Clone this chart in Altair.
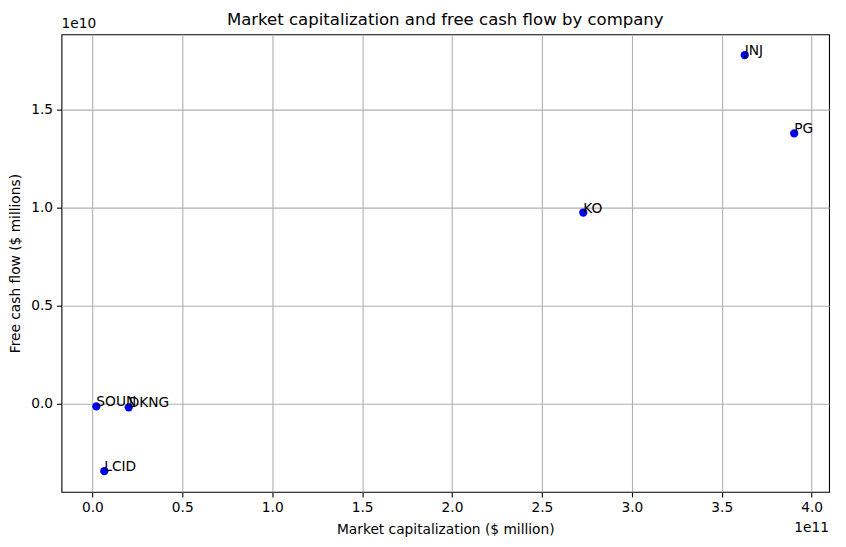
import pandas as pd
import altair as alt

# data
tickers = ['SOUN', 'DKNG', 'LCID', 'KO', 'JNJ', 'PG']
market_cap = [2.2e9, 2.02e10, 6.6e9, 2.73e11, 3.628e11, 3.903e11]
free_cash_flow = [-1.4e8, -1.9e8, -3.45e9, 9.76e9, 1.78e10, 1.38e10]

x_ticks = [0, 0.5e11, 1.0e11, 1.5e11, 2.0e11, 2.5e11, 3.0e11, 3.5e11, 4.0e11]
y_ticks = [0, 0.5e10, 1.0e10, 1.5e10]

df = pd.DataFrame({
    'ticker': tickers,
    'market_cap': market_cap,
    'fcf': free_cash_flow
})

W, H = 775, 462
FONT = 'DejaVu Sans'

x_enc = alt.X(
    'market_cap:Q',
    scale=alt.Scale(domain=[-1.72e10, 4.097e11], nice=False, zero=False),
    axis=alt.Axis(
        title='Market capitalization ($ million)',
        values=x_ticks,
        labelExpr="format(datum.value / 1e11, '.1f')",
        grid=True, gridColor='#b0b0b0', gridWidth=1.1,
        tickColor='black', tickSize=5, tickWidth=1.1,
        domain=False,
        labelPadding=4, titlePadding=8,
        labelFontSize=13.9, titleFontSize=13.9,
        labelFont=FONT, titleFont=FONT,
        titleFontWeight='normal', labelColor='black', titleColor='black'
    )
)
y_enc = alt.Y(
    'fcf:Q',
    scale=alt.Scale(domain=[-4.51e9, 1.886e10], nice=False, zero=False),
    axis=alt.Axis(
        title='Free cash flow ($ millions)',
        values=y_ticks,
        labelExpr="format(datum.value / 1e10, '.1f')",
        grid=True, gridColor='#b0b0b0', gridWidth=1.1,
        tickColor='black', tickSize=5, tickWidth=1.1,
        domain=False,
        labelPadding=4, titlePadding=8,
        labelFontSize=13.9, titleFontSize=13.9,
        labelFont=FONT, titleFont=FONT,
        titleFontWeight='normal', labelColor='black', titleColor='black'
    )
)

points = alt.Chart(df).mark_circle(size=70, color='#0000ff', opacity=1).encode(
    x=x_enc, y=y_enc
)

labels = alt.Chart(df).mark_text(
    align='left', baseline='alphabetic', fontSize=13.9, font=FONT, color='black'
).encode(
    x='market_cap:Q', y='fcf:Q', text='ticker:N'
)

x_offset = alt.Chart(pd.DataFrame({'t': ['1e11']})).mark_text(
    align='right', baseline='middle', fontSize=13.9, font=FONT, color='black'
).encode(text='t:N', x=alt.value(W), y=alt.value(H + 36))

y_offset = alt.Chart(pd.DataFrame({'t': ['1e10']})).mark_text(
    align='left', baseline='bottom', fontSize=13.9, font=FONT, color='black'
).encode(text='t:N', x=alt.value(0), y=alt.value(-3))

# chart title drawn as a text mark so the offset label above the axis doesn't push it away
title = alt.Chart(pd.DataFrame({'t': ['Market capitalization and free cash flow by company']})).mark_text(
    align='center', baseline='alphabetic', fontSize=16.7, font=FONT, color='black'
).encode(text='t:N', x=alt.value(W / 2), y=alt.value(-9))

chart = alt.layer(points, labels, x_offset, y_offset, title).properties(
    width=W, height=H,
    background='white',
    autosize=alt.AutoSizeParams(type='none'),
    padding={'left': 54, 'top': 24, 'right': 9, 'bottom': 53}
).configure_view(
    stroke='black', strokeWidth=1.1
)

chart.save("out.html", embed_options={"renderer": "svg", "actions": False})
